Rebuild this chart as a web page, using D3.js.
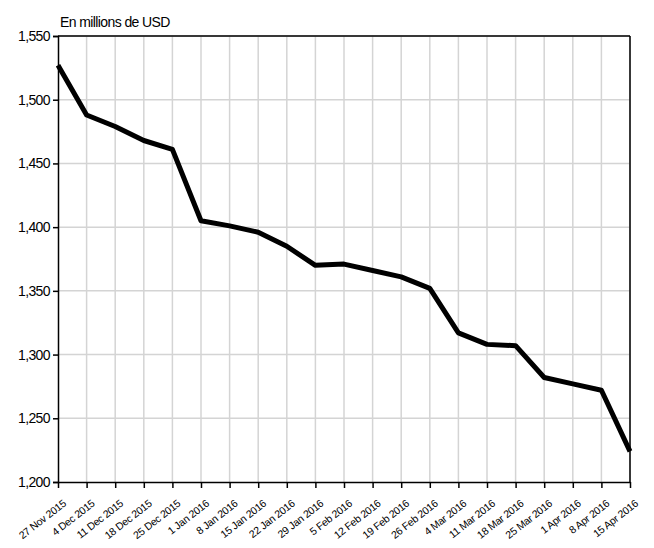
<!DOCTYPE html>
<html><head><meta charset="utf-8">
<script src="https://cdn.jsdelivr.net/npm/d3@7"></script>
<style>
body{margin:0;background:#fff;overflow:hidden;}
text{font-family:"Liberation Sans",Arial,sans-serif;}
</style></head>
<body><svg id="c" width="654" height="548"></svg>
<script>
const dates = ["27 Nov 2015","4 Dec 2015","11 Dec 2015","18 Dec 2015","25 Dec 2015","1 Jan 2016","8 Jan 2016","15 Jan 2016","22 Jan 2016","29 Jan 2016","5 Feb 2016","12 Feb 2016","19 Feb 2016","26 Feb 2016","4 Mar 2016","11 Mar 2016","18 Mar 2016","25 Mar 2016","1 Apr 2016","8 Apr 2016","15 Apr 2016"];
const values = [1527,1488,1479,1468,1461,1405,1401,1396,1385,1370,1371,1366,1361,1352,1317,1308,1307,1282,1277,1272,1224];
const yTicks = [1200,1250,1300,1350,1400,1450,1500,1550];
const unitLabel = "En millions de USD";

const svg = d3.select("#c");
const L=58, R=630, T=36, B=482;
const x = d3.scalePoint().domain(dates).range([L,R]);
const y = d3.scaleLinear().domain([1200,1550]).range([B,T]);

// grid
svg.append("g").selectAll("line").data(dates.slice(1)).join("line")
  .attr("x1",d=>x(d)).attr("x2",d=>x(d)).attr("y1",T).attr("y2",B)
  .attr("stroke","#d4d4d4").attr("stroke-width",1.5);
svg.append("g").selectAll("line").data(yTicks.slice(1)).join("line")
  .attr("x1",L).attr("x2",R).attr("y1",d=>y(d)).attr("y2",d=>y(d))
  .attr("stroke","#d4d4d4").attr("stroke-width",1.5);

// frame top/right
svg.append("line").attr("x1",L).attr("x2",R).attr("y1",T).attr("y2",T).attr("stroke","#000").attr("stroke-width",1.5);
svg.append("line").attr("x1",R).attr("x2",R).attr("y1",T).attr("y2",B).attr("stroke","#000").attr("stroke-width",1.5);

// y axis
const ya = svg.append("g").attr("transform",`translate(${L},0)`)
  .call(d3.axisLeft(y).tickValues(yTicks).tickSize(5).tickPadding(3).tickFormat(d3.format(",")));
ya.select(".domain").attr("stroke-width",1.5);
ya.selectAll(".tick line").attr("stroke-width",1.5);
ya.selectAll("text").attr("font-size",14).attr("letter-spacing","-0.6px").attr("fill","#000");

// x axis
const xa = svg.append("g").attr("transform",`translate(0,${B})`)
  .call(d3.axisBottom(x).tickSize(6).tickSizeOuter(0));
xa.select(".domain").attr("stroke-width",1.5);
xa.selectAll(".tick line").attr("stroke-width",1.5);
xa.selectAll("text").attr("font-size",10.5).attr("letter-spacing","-0.3px").attr("fill","#000")
  .attr("text-anchor","end").attr("dy","0.35em")
  .attr("transform","translate(6,20) rotate(-38)").attr("y",0).attr("x",0);

// line
svg.append("path").datum(values)
  .attr("d", d3.line().x((d,i)=>x(dates[i])).y(d=>y(d)))
  .attr("fill","none").attr("stroke","#000").attr("stroke-width",5).attr("stroke-linejoin","round");

svg.append("text").attr("x",L+2).attr("y",T-9).attr("font-size",14).attr("letter-spacing","-0.6px").text(unitLabel);
</script></body></html>
